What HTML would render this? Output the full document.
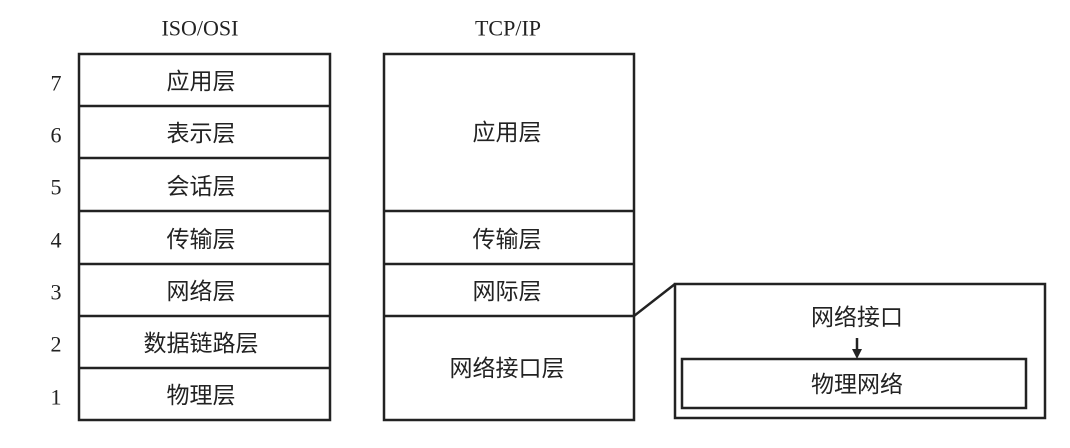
<!DOCTYPE html>
<html><head><meta charset="utf-8"><style>
html,body{margin:0;padding:0;background:#fff;}
svg{display:block;}
text{font-family:"Liberation Serif","Noto Serif CJK SC",serif;fill:#222;}
.c{font-family:"Liberation Sans","Noto Sans CJK SC",sans-serif;font-size:23px;text-anchor:middle;dominant-baseline:central;}
.n{font-size:22px;text-anchor:middle;dominant-baseline:central;}
</style></head><body>
<svg width="1070" height="448" viewBox="0 0 1070 448">
<g stroke="#222" stroke-width="2.5" fill="none">
<rect x="79" y="54" width="251" height="366"/>
<line x1="79" y1="106" x2="330" y2="106"/>
<line x1="79" y1="158" x2="330" y2="158"/>
<line x1="79" y1="211" x2="330" y2="211"/>
<line x1="79" y1="264" x2="330" y2="264"/>
<line x1="79" y1="316" x2="330" y2="316"/>
<line x1="79" y1="368" x2="330" y2="368"/>
<rect x="384" y="54" width="250" height="366"/>
<line x1="384" y1="211" x2="634" y2="211"/>
<line x1="384" y1="264" x2="634" y2="264"/>
<line x1="384" y1="316" x2="634" y2="316"/>
<rect x="675" y="284" width="370" height="134"/>
<line x1="634" y1="316" x2="675" y2="284"/>
<rect x="682" y="359" width="344" height="49"/>
<line x1="857" y1="338" x2="857" y2="352"/>
</g>
<polygon points="852,349 862,349 857,359" fill="#222"/>
<text x="200" y="28" class="n">ISO/OSI</text>
<text x="508" y="28" class="n">TCP/IP</text>
<text x="56" y="83" class="n">7</text>
<text x="56" y="135" class="n">6</text>
<text x="56" y="187" class="n">5</text>
<text x="56" y="240" class="n">4</text>
<text x="56" y="292" class="n">3</text>
<text x="56" y="344" class="n">2</text>
<text x="56" y="397" class="n">1</text>
<text x="201" y="81" class="c">应用层</text>
<text x="201" y="133" class="c">表示层</text>
<text x="201" y="186" class="c">会话层</text>
<text x="201" y="239" class="c">传输层</text>
<text x="201" y="291" class="c">网络层</text>
<text x="201" y="343" class="c">数据链路层</text>
<text x="201" y="395" class="c">物理层</text>
<text x="507" y="132" class="c">应用层</text>
<text x="507" y="239" class="c">传输层</text>
<text x="507" y="291" class="c">网际层</text>
<text x="507" y="368" class="c">网络接口层</text>
<text x="857" y="317" class="c">网络接口</text>
<text x="857" y="384" class="c">物理网络</text>
</svg>
</body></html>
